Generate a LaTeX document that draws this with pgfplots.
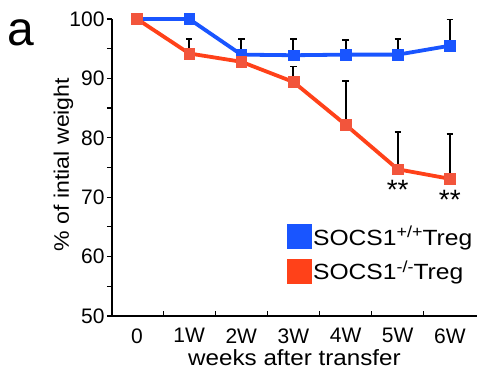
\documentclass[border=0pt]{standalone}
\usepackage{pgfplots}
\pgfplotsset{compat=1.18}
\usepackage{fontspec}
\setmainfont{Liberation Sans}
\newfontfamily\widefont[FakeStretch=1.1]{Liberation Sans}
\newfontfamily\legfont[FakeStretch=1.12]{Liberation Sans}
\definecolor{myblue}{RGB}{25,85,255}
\definecolor{myred}{RGB}{255,65,25}
\definecolor{myredm}{RGB}{242,85,60}
\newcommand{\mysup}[1]{\raisebox{7.5pt}{\fontsize{16}{16}\selectfont #1}}
\begin{document}
\begin{tikzpicture}[x=1pt,y=1pt]
\path[use as bounding box] (0,0) rectangle (482,372);
\node[anchor=base west, font=\fontsize{48}{50}\selectfont, inner sep=0] at (7,326) {a};
\begin{axis}[
 at={(112pt,56pt)}, anchor=south west, scale only axis, width=365pt, height=297pt,
 xmin=-0.48, xmax=6.52, ymin=50, ymax=100,
 axis lines=left, axis line style={line width=1.6pt, -},
 xtick={0,...,6}, xticklabels={0,1W,2W,3W,4W,5W,6W},
 ytick={50,60,...,100}, minor ytick={55,65,...,95},
 minor xtick={0.5,1.5,...,5.5},
 tick align=outside, major tick length=5pt, minor tick length=5pt,
 every tick/.style={black, line width=1.2pt},
 major x tick style={draw=none},
 minor x tick style={yshift=5pt},
 tick label style={font=\fontsize{21}{23}\selectfont},
 xticklabel style={yshift=-4pt},
 yticklabel style={xshift=1pt},
 /pgf/number format/assume math mode=true,
 xlabel={weeks after transfer}, ylabel={\% of intial weight},
 xlabel style={font=\widefont\fontsize{22}{24}\selectfont, at={(axis description cs:0.5,0)}, anchor=base, yshift=-49pt},
 ylabel style={font=\widefont\fontsize{21}{23}\selectfont, at={(axis description cs:-0.118,0.51)}, anchor=base},
 clip=false,
 legend style={at={(0.478,0.31)}, anchor=north west, draw=none, fill=none,
   font=\legfont\fontsize{22}{24}\selectfont, row sep=10pt, inner sep=0pt,
   nodes={inner xsep=2pt}},
 legend cell align=left,
]
\addplot[mark=none, draw=none, forget plot, error bars/.cd, y dir=plus, y explicit,
  error bar style={line width=2pt,black},
  error mark options={rotate=90, black, line width=1.8pt, mark size=3.2pt}]
  coordinates {(2,94.0) +- (0,2.6) (3,93.9) +- (0,2.7) (4,94.0) +- (0,2.5) (5,94.0) +- (0,2.6) (6,95.5) +- (0,4.4)};
\addplot[mark=none, draw=none, forget plot, error bars/.cd, y dir=plus, y explicit,
  error bar style={line width=2pt,black},
  error mark options={rotate=90, black, line width=1.8pt, mark size=3.2pt}]
  coordinates {(1,94.2) +- (0,2.4) (3,89.4) +- (0,2.6) (4,82.2) +- (0,7.4) (5,74.7) +- (0,6.3) (6,73.1) +- (0,7.5)};
\addplot[myblue, line width=3.8pt, mark=square*, mark size=5.3pt, forget plot,
  mark options={fill=myblue, draw=myblue, line width=0.5pt}]
  coordinates {(0,100) (1,100) (2,94.0) (3,93.9) (4,94.0) (5,94.0) (6,95.5)};
\addplot[myred, line width=3.8pt, mark=square*, mark size=5.3pt, forget plot,
  mark options={fill=myredm, draw=myredm, line width=0.5pt}]
  coordinates {(0,100) (1,94.2) (2,92.8) (3,89.4) (4,82.2) (5,74.7) (6,73.1)};
\addlegendimage{legend image code/.code={\fill[myblue] (0pt,-12pt) rectangle (24pt,12pt);}}
\addlegendentry{SOCS1\mysup{+/+}Treg}
\addlegendimage{legend image code/.code={\fill[myred] (0pt,-12pt) rectangle (24pt,12pt);}}
\addlegendentry{SOCS1\mysup{-/-}Treg}
\node[font=\fontsize{28}{28}\selectfont] at (axis cs:5,71.2) {**};
\node[font=\fontsize{28}{28}\selectfont] at (axis cs:6,69.6) {**};
\end{axis}
\end{tikzpicture}
\end{document}
